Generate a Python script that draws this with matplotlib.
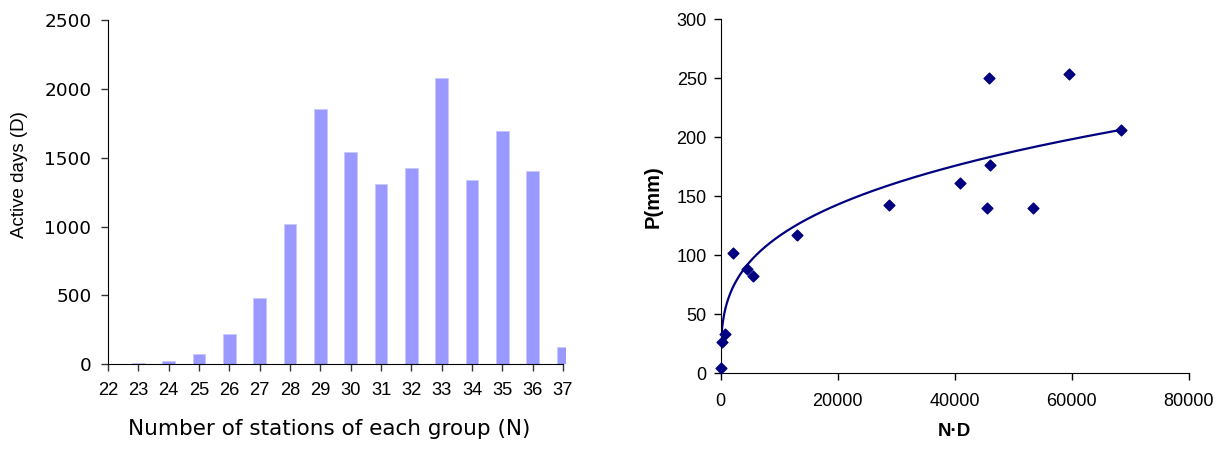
import numpy as np
import matplotlib
matplotlib.use("Agg")
import matplotlib.pyplot as plt

# ---- Left chart data ----
stations = [22, 23, 24, 25, 26, 27, 28, 29, 30, 31, 32, 33, 34, 35, 36, 37]
active_days = [0, 9, 24, 73, 218, 479, 1017, 1852, 1541, 1311, 1423, 2079, 1336, 1694, 1404, 123]
left_yticks = [0, 500, 1000, 1500, 2000, 2500]

# ---- Right chart data ----
nd_values = [50, 270, 680, 2150, 4440, 5460, 13080, 28730, 40850, 45410, 45800, 46020, 53360, 59510, 68340]
p_values = [4.5, 26.7, 33.2, 102.1, 88.0, 82.7, 117.3, 142.9, 161.2, 140.1, 250.0, 176.4, 140.1, 253.2, 206.2]
right_xticks = [0, 20000, 40000, 60000, 80000]
right_yticks = [0, 50, 100, 150, 200, 250, 300]
# power trendline P = a * (N*D)^b (coefficients)
trend_a = 7.47
trend_b = 0.298

fig = plt.figure(figsize=(12.22, 4.5), dpi=100)

# ---------------- Left ----------------
ax1 = fig.add_axes([108/1222, 1 - 364.3/450, (566-108)/1222, 344.3/450])
ax1.bar(stations, active_days, width=0.42, color='#9999ff', edgecolor='#c8c8ff', linewidth=0.6)
ax1.set_xlim(22, 37.1)
ax1.set_ylim(0, 2500)
ax1.set_xticks(stations)
ax1.set_xticklabels([str(s) for s in stations], fontfamily='Liberation Sans', fontsize=13.2)
ax1.set_yticks(left_yticks)
ax1.set_yticklabels([str(v) for v in left_yticks], fontfamily='DejaVu Sans', fontsize=13.3)
for s in ['top', 'right']:
    ax1.spines[s].set_visible(False)
ax1.spines['bottom'].set_bounds(22, 37)
ax1.tick_params(axis='both', direction='out', length=5, width=1, color='#333333')
ax1.tick_params(axis='y', pad=7)
ax1.tick_params(axis='x', pad=8)
ax1.set_ylabel('Active days (D)', fontfamily='Liberation Sans', fontsize=13.5)
ax1.yaxis.set_label_coords(-0.175, 0.55)
ax1.set_xlabel('Number of stations of each group (N)', fontfamily='DejaVu Sans', fontsize=15.5)
ax1.xaxis.set_label_coords(0.483, -0.16)

# ---------------- Right ----------------
ax2 = fig.add_axes([720.7/1222, 1 - 373.3/450, (1189-720.7)/1222, 354.3/450])
xs = np.linspace(30, max(nd_values), 600)
ax2.plot(xs, trend_a * xs ** trend_b, color='#000080', linewidth=1.6, zorder=2)
ax2.scatter(nd_values, p_values, marker='D', s=30, color='#000080', zorder=3, clip_on=False)
ax2.set_xlim(0, 80000)
ax2.set_ylim(0, 300)
ax2.set_xticks(right_xticks)
ax2.set_xticklabels([str(v) for v in right_xticks], fontfamily='Liberation Sans', fontsize=13)
ax2.set_yticks(right_yticks)
ax2.set_yticklabels([str(v) for v in right_yticks], fontfamily='Liberation Sans', fontsize=13)
for s in ['top', 'right']:
    ax2.spines[s].set_visible(False)
ax2.tick_params(axis='both', direction='out', length=5, width=1)
ax2.tick_params(axis='y', pad=5)
ax2.tick_params(axis='x', pad=9)
ax2.set_xlabel('N·D', fontfamily='Liberation Sans', fontweight='bold', fontsize=13.5)
ax2.xaxis.set_label_coords(0.5, -0.14)
ax2.set_ylabel('P(mm)', fontfamily='Liberation Sans', fontweight='bold', fontsize=14.5)
ax2.yaxis.set_label_coords(-0.125, 0.5)

fig.savefig('out.png', dpi=100)
